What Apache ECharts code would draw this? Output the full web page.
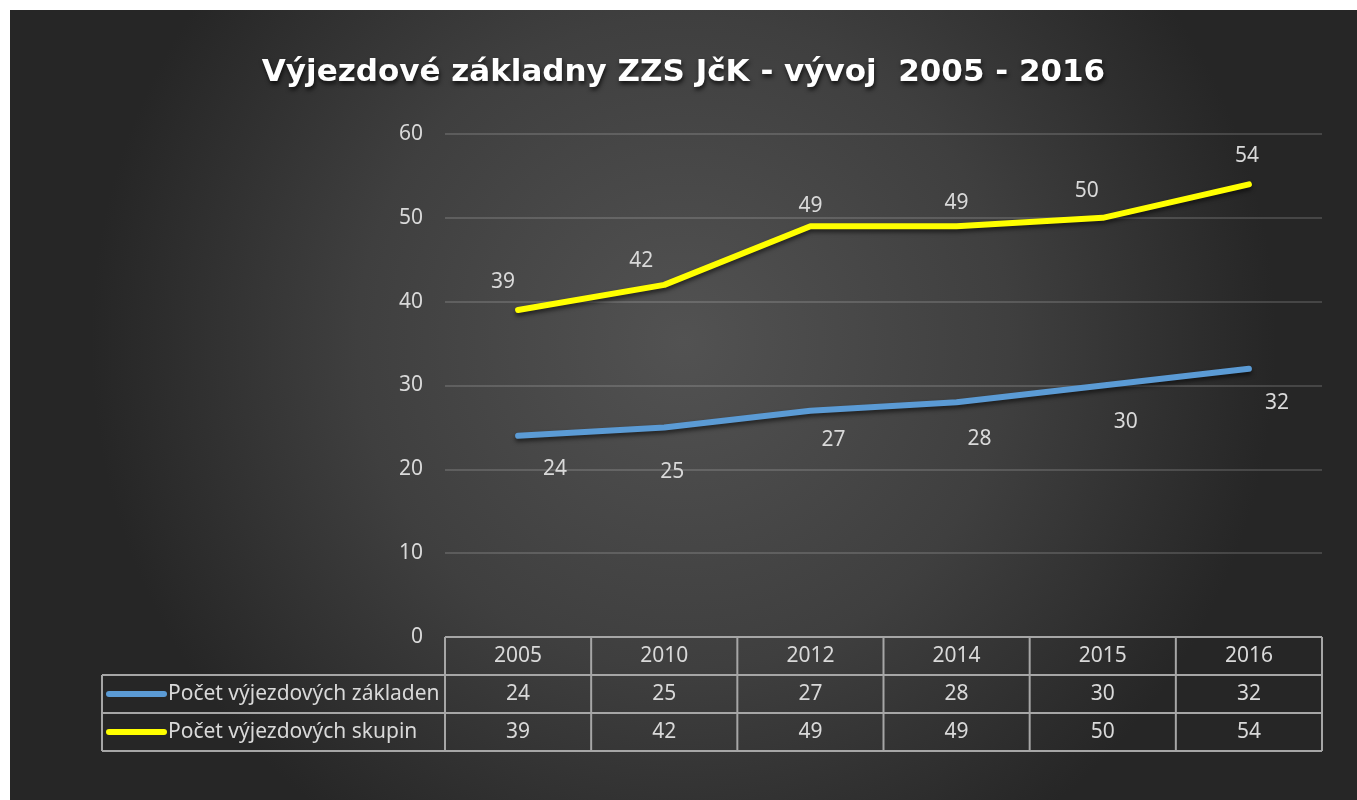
<!DOCTYPE html>
<html><head><meta charset="utf-8">
<script src="https://cdn.jsdelivr.net/npm/echarts@6/dist/echarts.min.js"></script>
<style>html,body{margin:0;padding:0;background:#fff;}#c{position:absolute;left:10px;top:10px;width:1347px;height:790px;}</style>
</head><body><div id="c"></div>
<script>
const titleText = 'Výjezdové základny ZZS JčK - vývoj  2005 - 2016';
const years = ['2005','2010','2012','2014','2015','2016'];
const seriesNames = ['Počet výjezdových základen','Počet výjezdových skupin'];
const zakladny = [24,25,27,28,30,32];
const skupiny = [39,42,49,49,50,54];
const yTicks = [0,10,20,30,40,50,60];

const colors = ['#5b9bd5','#ffff00'];
const blueLabelOffsets = [[37,33],[8,45],[23,29],[23,37],[23,37],[28,34]];
const yellowLabelOffsets = [[-15,-28],[-23,-24],[0,-20],[0,-23],[-16,-27],[-2,-28]];
const txtColor = '#d9d9d9';
const font = '"Noto Sans", sans-serif';
const fs = 21;
const tableColor = '#a6a6a6';

function mkData(vals, offs){
  return vals.map((v,i)=>({value:v,label:{offset:offs[i]}}));
}

const chart = echarts.init(document.getElementById('c'), null, {renderer:'canvas'});
const option = {
  animation:false,
  backgroundColor:{type:'radial',x:0.5,y:0.42,r:0.75,colorStops:[{offset:0,color:'#525252'},{offset:0.55,color:'#3f3f3f'},{offset:1,color:'#262626'}]},
  title:{text:titleText,left:'center',top:42,textStyle:{color:'#ffffff',fontFamily:'"DejaVu Sans", sans-serif',fontWeight:'bold',fontSize:31,textShadowColor:'rgba(0,0,0,0.7)',textShadowBlur:4,textShadowOffsetX:1,textShadowOffsetY:3}},
  grid:{left:435,right:35,top:124,bottom:163,containLabel:false},
  xAxis:{type:'category',data:years,boundaryGap:true,
    axisLine:{show:false},axisTick:{show:false},
    axisLabel:{color:txtColor,fontFamily:font,fontSize:fs,margin:9}},
  yAxis:{type:'value',min:0,max:60,interval:10,
    axisLine:{show:false},axisTick:{show:false},
    axisLabel:{color:txtColor,fontFamily:font,fontSize:fs,margin:22,formatter:v=>yTicks.includes(v)?String(v):''},
    splitLine:{lineStyle:{color:'rgba(255,255,255,0.15)',width:2}}},
  series:[
    {name:seriesNames[0],type:'line',data:mkData(zakladny,blueLabelOffsets),symbol:'circle',symbolSize:0.1,
     lineStyle:{color:colors[0],width:6,cap:'round',join:'round',shadowColor:'rgba(0,0,0,0.55)',shadowBlur:4,shadowOffsetY:3},
     itemStyle:{color:colors[0]},
     label:{show:true,position:'inside',color:txtColor,fontFamily:font,fontSize:fs}},
    {name:seriesNames[1],type:'line',data:mkData(skupiny,yellowLabelOffsets),symbol:'circle',symbolSize:0.1,
     lineStyle:{color:colors[1],width:6,cap:'round',join:'round',shadowColor:'rgba(0,0,0,0.55)',shadowBlur:4,shadowOffsetY:3},
     itemStyle:{color:colors[1]},
     label:{show:true,position:'inside',color:txtColor,fontFamily:font,fontSize:fs}}
  ]
};
chart.setOption(option);

// Build data table from axis scales
const p0 = chart.convertToPixel({gridIndex:0},[0,0]);
const p1 = chart.convertToPixel({gridIndex:0},[1,0]);
const band = p1[0]-p0[0];
const gridLeft = p0[0]-band/2;
const gridRight = gridLeft + band*years.length;
const yTop = p0[1];
const rowH = 38;
const legendLeft = 92;
const els = [];
const ls = {stroke:tableColor,lineWidth:2};
els.push({type:'line',shape:{x1:gridLeft,y1:yTop,x2:gridRight,y2:yTop},style:ls});
for(let r=1;r<=3;r++){
  els.push({type:'line',shape:{x1:legendLeft,y1:yTop+rowH*r,x2:gridRight,y2:yTop+rowH*r},style:ls});
}
for(let i=0;i<=years.length;i++){
  const x=gridLeft+band*i;
  els.push({type:'line',shape:{x1:x,y1:yTop,x2:x,y2:yTop+rowH*3},style:ls});
}
els.push({type:'line',shape:{x1:legendLeft,y1:yTop+rowH,x2:legendLeft,y2:yTop+rowH*3},style:ls});
const rows=[zakladny,skupiny];
rows.forEach((vals,r)=>{
  const cy=yTop+rowH*(r+1)+rowH/2;
  els.push({type:'line',shape:{x1:legendLeft+7,y1:cy,x2:legendLeft+62,y2:cy},style:{stroke:colors[r],lineWidth:6,lineCap:'round'}});
  els.push({type:'text',x:legendLeft+66,y:cy,style:{text:seriesNames[r],fill:txtColor,font:fs+'px '+font,textVerticalAlign:'middle',verticalAlign:'middle'}});
  vals.forEach((v,i)=>{
    els.push({type:'text',x:gridLeft+band*(i+0.5),y:cy,style:{text:String(v),fill:txtColor,font:fs+'px '+font,align:'center',textAlign:'center',verticalAlign:'middle',textVerticalAlign:'middle'}});
  });
});
chart.setOption({graphic:{elements:els}});
</script></body></html>
